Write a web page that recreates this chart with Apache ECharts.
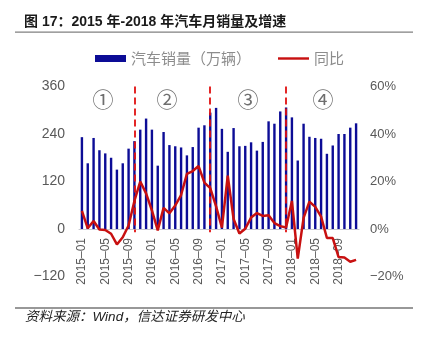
<!DOCTYPE html>
<html>
<head>
<meta charset="utf-8">
<script src="https://cdn.jsdelivr.net/npm/echarts@6/dist/echarts.min.js"></script>
<style>
html,body{margin:0;padding:0;background:#fff;}
#c{width:426px;height:339px;}
</style>
</head>
<body>
<div id="c"></div>
<script>
var titleText = '图 17：2015 年-2018 年汽车月销量及增速';
var sourceText = '资料来源：Wind，信达证券研发中心';
var barName = '汽车销量（万辆）';
var lineName = '同比';

var months = [
 '2015-01','2015-02','2015-03','2015-04','2015-05','2015-06','2015-07','2015-08','2015-09','2015-10','2015-11','2015-12',
 '2016-01','2016-02','2016-03','2016-04','2016-05','2016-06','2016-07','2016-08','2016-09','2016-10','2016-11','2016-12',
 '2017-01','2017-02','2017-03','2017-04','2017-05','2017-06','2017-07','2017-08','2017-09','2017-10','2017-11','2017-12',
 '2018-01','2018-02','2018-03','2018-04','2018-05','2018-06','2018-07','2018-08','2018-09','2018-10','2018-11','2018-12'
];
var sales = [
 232,166,230,199,191,180,150,166,203,222,251,279,
 251,160,245,212,209,206,186,207,256,262,294,306,
 253,195,255,209,210,219,198,220,272,266,297,307,
 282,173,266,233,230,228,190,211,240,240,256,267
];
var yoy = [
 7.6,0.3,3.4,-0.2,-0.4,-2.0,-6.5,-3.5,1.5,11.8,20.0,15.0,
 7.8,-0.6,8.9,6.6,9.9,14.3,23.2,24.4,26.5,19.5,17.2,9.5,
 0.6,22.5,4.2,-1.9,0.1,4.8,6.7,5.5,5.8,2.5,1.2,0.6,
 11.8,-12.5,4.7,11.5,9.3,5.2,-3.8,-3.8,-11.8,-12.0,-13.8,-13.0
];
var leftTicks = [-120, 0, 120, 240, 360];
var rightTicks = [-20, 0, 20, 40, 60];
var phaseMonths = ['2015-10', '2016-11', '2017-12'];
var phaseLabels = ['①', '②', '③', '④'];

var chart = echarts.init(document.getElementById('c'), null, {renderer: 'canvas'});

var markData = phaseMonths.map(function (m) {
  return [{xAxis: m, yAxis: 360}, {xAxis: m, yAxis: -8}];
});

var phasePos = [103, 167, 248, 323];

var gridTop = 86.5, gridBottom = 62.5, plotH = 339 - gridTop - gridBottom;
var lMin = leftTicks[0], lMax = leftTicks[leftTicks.length - 1];
// shift the category axis up to the zero level of the value axes
var zeroOffset = -plotH * (0 - lMin) / (lMax - lMin);

var option = {
  animation: false,
  backgroundColor: '#ffffff',
  grid: {left: 79, right: 67, top: gridTop, bottom: gridBottom},
  legend: {
    left: 90, top: 46,
    itemWidth: 31, itemHeight: 7, itemGap: 27,
    textStyle: {fontSize: 15, color: '#8c8c8c', fontFamily: 'Noto Sans CJK SC'},
    data: [
      {name: barName, icon: 'rect'},
      {name: lineName, icon: 'path://M0,0 H32 V2.5 H0 Z'}
    ]
  },
  xAxis: {
    type: 'category',
    data: months,
    boundaryGap: true,
    position: 'bottom',
    offset: zeroOffset,
    axisLine: {onZero: false, lineStyle: {color: '#c8c8d0', width: 1}},
    axisTick: {show: false},
    axisLabel: {
      interval: 3, rotate: 90, fontSize: 12, color: '#595959', margin: 9,
      fontFamily: 'Liberation Sans',
      formatter: function (v) { return v.replace('-', '–'); }
    }
  },
  yAxis: [
    {
      type: 'value', min: lMin, max: lMax, interval: 120,
      axisLine: {show: false}, axisTick: {show: false}, splitLine: {show: false},
      axisLabel: {fontSize: 14, color: '#595959', margin: 14, fontFamily: 'Liberation Sans',
        formatter: function (v) { return String(v).replace('-', '−'); }}
    },
    {
      type: 'value', min: rightTicks[0], max: rightTicks[rightTicks.length - 1], interval: 20,
      axisLine: {show: false}, axisTick: {show: false}, splitLine: {show: false},
      axisLabel: {fontSize: 13, color: '#595959', margin: 11, fontFamily: 'Liberation Sans',
        formatter: function (v) { return String(v).replace('-', '−') + '%'; }}
    }
  ],
  series: [
    {
      name: barName, type: 'bar', data: sales, yAxisIndex: 0,
      barWidth: 2.4,
      itemStyle: {color: '#0c0c96'},
      markLine: {
        silent: true, symbol: 'none', label: {show: false},
        lineStyle: {color: '#e01010', type: [7, 4], width: 1.8},
        data: markData
      }
    },
    {
      name: lineName, type: 'line', data: yoy, yAxisIndex: 1,
      symbol: 'none', smooth: false,
      lineStyle: {color: '#c81010', width: 2.5},
      itemStyle: {color: '#c81010'},
      z: 5
    }
  ],
  graphic: [
    {type: 'text', left: 24, top: 15, style: {text: titleText, font: 'bold 14px "Liberation Sans", "Noto Sans CJK SC"', fill: '#1a1a1a'}},
    {type: 'rect', shape: {x: 15, y: 31.5, width: 398, height: 1.3}, style: {fill: '#808080'}},
    {type: 'rect', shape: {x: 15, y: 307.5, width: 398, height: 1}, style: {fill: '#333333'}},
    {type: 'text', left: 25, top: 310, style: {text: sourceText, font: 'italic 13.5px "Liberation Sans", "Noto Sans CJK SC"', fill: '#222222'}}
  ].concat(phaseLabels.map(function (t, i) {
    return {type: 'text', x: phasePos[i], y: 99, style: {text: t, font: '21px "Noto Sans CJK SC"', fill: '#6e6e6e', align: 'center', verticalAlign: 'middle'}};
  }))
};
chart.setOption(option);
</script>
</body>
</html>
